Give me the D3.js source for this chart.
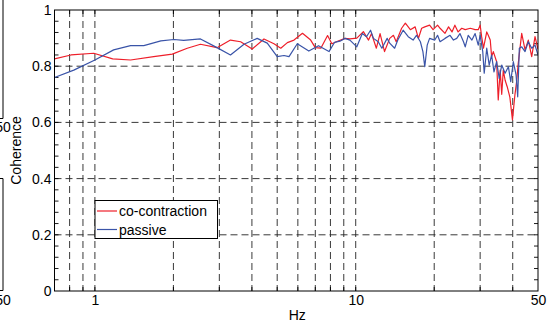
<!DOCTYPE html>
<html>
<head>
<meta charset="utf-8">
<script src="https://cdn.jsdelivr.net/npm/d3@7"></script>
<style>
  body { margin: 0; background: #fff; }
  svg { display: block; font-family: "Liberation Sans", Arial, sans-serif; }
</style>
</head>
<body>
<svg id="chart" width="547" height="326"></svg>
<script>
// coherence spectra
const redFreq = [0.62, 0.7, 0.81, 0.99, 1.17, 1.37, 1.68, 1.98, 2.26, 2.54, 2.94, 3.31, 3.62, 4.01, 4.45, 4.86, 5.16, 5.47, 5.8, 6.25,
  6.72, 7.0, 7.35, 7.8, 8.1, 8.43, 9.1, 9.5, 10.1, 10.7, 11.2, 11.5, 12.0, 12.4, 12.9, 13.5, 13.95, 14.3, 15.0, 15.5,
  16.2, 16.9, 17.4, 17.9, 18.4, 19.2, 19.8, 20.6, 21.06, 22.0, 22.7, 23.4, 24.0, 24.7, 25.5, 26.3, 27.5, 28.7, 29.5, 30.0,
  30.4, 30.9, 31.8, 32.2, 32.8, 33.2, 33.7, 34.7, 35.2, 35.8, 36.3, 36.8, 37.4, 38.1, 39.0, 39.9, 40.8, 41.4, 42.0, 43.3,
  44.6, 45.9, 47.3, 48.7, 50];
const redCoh = [0.820, 0.826, 0.840, 0.846, 0.826, 0.822, 0.834, 0.843, 0.864, 0.878, 0.866, 0.893, 0.887, 0.861, 0.897, 0.880, 0.864, 0.884, 0.893, 0.917,
  0.893, 0.866, 0.864, 0.909, 0.880, 0.887, 0.899, 0.897, 0.900, 0.923, 0.893, 0.916, 0.864, 0.916, 0.852, 0.899, 0.910, 0.887, 0.935, 0.953,
  0.930, 0.940, 0.899, 0.935, 0.940, 0.946, 0.930, 0.946, 0.935, 0.917, 0.940, 0.922, 0.946, 0.922, 0.935, 0.930, 0.935, 0.930, 0.930, 0.946,
  0.905, 0.864, 0.922, 0.911, 0.893, 0.834, 0.852, 0.816, 0.680, 0.786, 0.700, 0.786, 0.750, 0.727, 0.690, 0.609, 0.700, 0.745, 0.810, 0.917,
  0.858, 0.893, 0.834, 0.905, 0.860];

const blueFreq = [0.62, 0.7, 0.83, 1.0, 1.18, 1.37, 1.54, 1.79, 2.01, 2.19, 2.54, 2.94, 3.31, 3.73, 4.19, 4.58, 5.0, 5.31, 5.55, 5.97,
  6.61, 7.2, 7.9, 8.3, 8.7, 9.1, 9.5, 10.1, 10.6, 11.0, 11.4, 11.7, 12.2, 12.6, 13.2, 13.5, 14.1, 14.5, 15.2, 15.9,
  16.6, 17.1, 17.7, 18.1, 18.4, 18.8, 19.2, 20.1, 20.6, 21.06, 22.0, 23.0, 23.7, 24.4, 25.1, 25.9, 26.3, 27.0, 27.9, 28.7,
  29.5, 30.0, 30.7, 31.1, 31.8, 32.5, 33.2, 33.9, 34.7, 35.5, 36.3, 37.4, 38.5, 39.3, 40.2, 41.2, 41.8, 42.4, 43.3, 44.6,
  45.9, 47.3, 48.7, 50];
const blueCoh = [0.745, 0.760, 0.786, 0.822, 0.858, 0.873, 0.873, 0.890, 0.895, 0.892, 0.897, 0.866, 0.840, 0.878, 0.899, 0.882, 0.834, 0.838, 0.834, 0.880,
  0.854, 0.873, 0.852, 0.885, 0.889, 0.899, 0.893, 0.869, 0.916, 0.905, 0.928, 0.899, 0.887, 0.864, 0.899, 0.882, 0.864, 0.893, 0.928, 0.905,
  0.893, 0.910, 0.887, 0.852, 0.798, 0.875, 0.899, 0.893, 0.910, 0.887, 0.899, 0.910, 0.893, 0.899, 0.916, 0.887, 0.869, 0.910, 0.893, 0.916,
  0.875, 0.910, 0.852, 0.775, 0.864, 0.804, 0.840, 0.780, 0.816, 0.757, 0.804, 0.775, 0.798, 0.745, 0.816, 0.769, 0.691, 0.864, 0.869, 0.852,
  0.887, 0.864, 0.875, 0.840];

const xTicks = [1, 10, 50];
const xGrid = [0.8, 0.9, 1, 2, 3, 4, 5, 6, 7, 8, 9, 10, 20, 30, 40];
const yTicks = [0, 0.2, 0.4, 0.6, 0.8, 1];
const yGrid = [0.2, 0.4, 0.6, 0.8];
const seriesNames = ['co-contraction', 'passive'];
const seriesColors = ['#ee1f2a', '#3a54a8'];

const svg = d3.select('#chart');
const pL = 54.5, pR = 538, pT = 10, pB = 291;

const x = d3.scaleLog().domain([0.7, 50]).range([pL, pR]);
const y = d3.scaleLinear().domain([0, 1]).range([pB, pT]);

svg.append('defs').append('clipPath').attr('id', 'plotclip')
  .append('rect').attr('x', pL).attr('y', pT).attr('width', pR - pL).attr('height', pB - pT);

// grid
const grid = svg.append('g').attr('stroke', '#222').attr('stroke-width', 0.9).attr('stroke-dasharray', '7,4');
grid.selectAll('line.vx').data(xGrid).enter().append('line')
  .attr('class', 'vx')
  .attr('x1', d => x(d)).attr('x2', d => x(d))
  .attr('y1', pT).attr('y2', pB);
grid.selectAll('line.hy').data(yGrid).enter().append('line')
  .attr('class', 'hy')
  .attr('x1', pL).attr('x2', pR)
  .attr('y1', d => y(d)).attr('y2', d => y(d));

// minor ticks on the box
const minorY = d3.range(0.04, 1, 0.04);
const ticks = svg.append('g').attr('stroke', '#000').attr('stroke-width', 0.9);
ticks.selectAll('line.ly').data(minorY).enter().append('line')
  .attr('x1', pL).attr('x2', pL + 4).attr('y1', d => y(d)).attr('y2', d => y(d));
ticks.selectAll('line.ry').data(minorY).enter().append('line')
  .attr('x1', pR - 4).attr('x2', pR).attr('y1', d => y(d)).attr('y2', d => y(d));
ticks.selectAll('line.bx').data(xGrid).enter().append('line')
  .attr('x1', d => x(d)).attr('x2', d => x(d)).attr('y1', pB).attr('y2', pB - 4);
ticks.selectAll('line.tx').data(xGrid).enter().append('line')
  .attr('x1', d => x(d)).attr('x2', d => x(d)).attr('y1', pT).attr('y2', pT + 4);

// curves
const series = [
  { name: seriesNames[0], color: seriesColors[0], pts: redFreq.map((f, i) => [f, redCoh[i]]) },
  { name: seriesNames[1], color: seriesColors[1], pts: blueFreq.map((f, i) => [f, blueCoh[i]]) }
];
const line = d3.line().x(d => x(d[0])).y(d => y(d[1]));
svg.append('g').attr('clip-path', 'url(#plotclip)')
  .selectAll('path').data(series).enter().append('path')
  .attr('d', d => line(d.pts))
  .attr('fill', 'none')
  .attr('stroke', d => d.color)
  .attr('stroke-width', 1.2)
  .attr('stroke-linejoin', 'round');

// box
svg.append('rect').attr('x', pL).attr('y', pT).attr('width', pR - pL).attr('height', pB - pT)
  .attr('fill', 'none').attr('stroke', '#000').attr('stroke-width', 1);

// axes labels
const fmt = d3.format('~g');
const yAxis = svg.append('g').attr('transform', `translate(${pL},0)`)
  .call(d3.axisLeft(y).tickValues(yTicks).tickFormat(fmt).tickSize(0).tickPadding(3));
const xAxis = svg.append('g').attr('transform', `translate(0,${pB})`)
  .call(d3.axisBottom(x).tickValues(xTicks).tickFormat(fmt).tickSize(0).tickPadding(4));
[xAxis, yAxis].forEach(a => {
  a.select('.domain').remove();
  a.selectAll('text').attr('font-size', 14).attr('fill', '#000')
    .attr('font-family', '"Liberation Sans", Arial, sans-serif');
});

svg.append('text').attr('x', (pL + pR) / 2 + 1).attr('y', 320)
  .attr('text-anchor', 'middle').attr('font-size', 14).text('Hz');
svg.append('text').attr('transform', `translate(21,${(pT + pB) / 2}) rotate(-90)`)
  .attr('text-anchor', 'middle').attr('font-size', 14).text('Coherence');

// legend
const lg = svg.append('g');
lg.append('rect').attr('x', 95).attr('y', 200.5).attr('width', 122.5).attr('height', 38)
  .attr('fill', '#fff').attr('stroke', '#000').attr('stroke-width', 1);
series.forEach((s, i) => {
  const ly = 211 + i * 18.5;
  lg.append('line').attr('x1', 97).attr('x2', 117).attr('y1', ly).attr('y2', ly)
    .attr('stroke', s.color).attr('stroke-width', 1.2);
  lg.append('text').attr('x', 119).attr('y', ly + 5).attr('font-size', 14).text(s.name);
});

// edges of the neighbouring panels, cut by the frame
const nb = svg.append('g').attr('stroke', '#000').attr('stroke-width', 1).attr('fill', 'none');
nb.append('path').attr('d', 'M0,118.5H3V0');
nb.append('path').attr('d', 'M0,178.5H3V290.5H0');
[132, 305].forEach(b => svg.append('text').attr('x', 3).attr('y', b)
  .attr('text-anchor', 'middle').attr('font-size', 14).text('50'));
</script>
</body>
</html>
